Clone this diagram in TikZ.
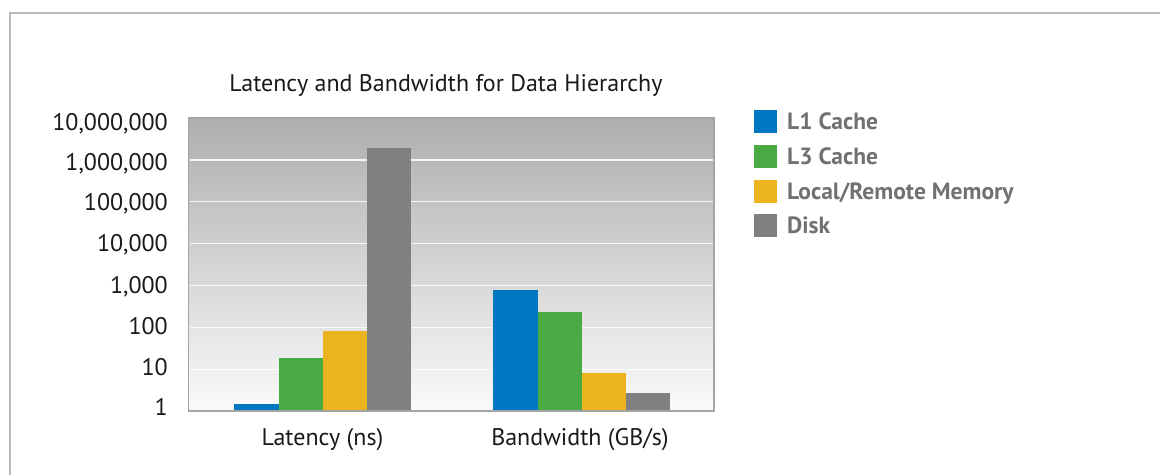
\documentclass[tikz,border=0pt]{standalone}
\usepackage{fontspec}
\setmainfont{PT Sans}
\definecolor{cblue}{HTML}{0077C0}
\definecolor{cgreen}{HTML}{4AAB44}
\definecolor{cyellow}{HTML}{EBB31F}
\definecolor{cgray}{HTML}{808080}
\definecolor{frame}{HTML}{BBBBBB}
\definecolor{plotedge}{HTML}{A3A4A6}
\definecolor{bgtop}{HTML}{ADAEB0}
\definecolor{bgbot}{HTML}{FAFAFA}
\definecolor{legtext}{HTML}{707174}
\definecolor{txt}{HTML}{1A1A1A}
\tikzset{
  bar/.style={fill=#1, draw=none},
  grid line/.style={draw=white, line width=1.3pt, opacity=0.85},
  ticklabel/.style={anchor=base east, inner sep=0pt, font=\fontsize{24}{28}\selectfont, text=txt},
  axlabel/.style={anchor=base, inner sep=0pt, font=\fontsize{24}{28}\selectfont, text=txt},
  legbox/.style={fill=#1, draw=none, minimum width=23pt, minimum height=23pt, inner sep=0pt, anchor=north west},
  legtxt/.style={anchor=base west, inner sep=0pt, font=\fontsize{23.5}{28}\selectfont\bfseries, text=legtext},
}
\begin{document}
\begin{tikzpicture}[x=1pt, y=-1pt]
\useasboundingbox (0,0) rectangle (1160,475);
\fill[white] (0,0) rectangle (1160,475);
% outer frame (top and left only)
\draw[frame, line width=1.5pt] (10,475) -- (10,13) -- (1160,13);
% title
\node[anchor=base, inner sep=0pt, font=\fontsize{24}{28}\selectfont, text=txt] (title) at (446,91.5) {Latency and Bandwidth for Data Hierarchy};
% plot area
\shade[top color=bgtop, bottom color=bgbot] (188.5,118) rectangle (714,411);
\foreach \k in {1,...,6} {
  \draw[grid line] (189.5,{118+41.857*\k}) -- (713,{118+41.857*\k});
}
% bars: latency
\fill[bar=cblue]   (234,404) rectangle (279,411);
\fill[bar=cgreen]  (279,358) rectangle (323,411);
\fill[bar=cyellow] (323,331) rectangle (367,411);
\fill[bar=cgray]   (367,148) rectangle (411,411);
% bars: bandwidth
\fill[bar=cblue]   (493,290) rectangle (538,411);
\fill[bar=cgreen]  (538,312) rectangle (582,411);
\fill[bar=cyellow] (582,373) rectangle (626,411);
\fill[bar=cgray]   (626,393) rectangle (670,411);
% plot border
\draw[plotedge, line width=1.5pt] (188.5,118) rectangle (714,411);
% y tick labels
\node[ticklabel] (t7) at (168,{118+12.5}) {10,000,000};
\node[ticklabel] (t6) at (168,{159.9+10.5}) {1,000,000};
\node[ticklabel] (t5) at (168,{201.7+8.5}) {100,000};
\node[ticklabel] (t4) at (168,{243.6+8}) {10,000};
\node[ticklabel] (t3) at (168,{285.4+8}) {1,000};
\node[ticklabel] (t2) at (168,{327.3+7.5}) {100};
\node[ticklabel] (t1) at (168,{369.1+6}) {10};
\node[ticklabel] (t0) at (168,{411+4.5}) {1};
% x axis labels
\node[axlabel] (xl1) at (322.5,445.5) {Latency (ns)};
\node[axlabel] (xl2) at (580,445.5) {Bandwidth (GB/s)};
% legend
\node[legbox=cblue]   (k1) at (754,110) {};
\node[legbox=cgreen]  (k2) at (754,144.5) {};
\node[legbox=cyellow] (k3) at (754,179.5) {};
\node[legbox=cgray]   (k4) at (754,214) {};
\node[legtxt] (l1) at (787,{110+19.5}) {L1 Cache};
\node[legtxt] (l2) at (787,{144.5+19.5}) {L3 Cache};
\node[legtxt] (l3) at (787,{179.5+19.5}) {Local/Remote Memory};
\node[legtxt] (l4) at (787,{214+19.5}) {Disk};
\end{tikzpicture}
\end{document}
